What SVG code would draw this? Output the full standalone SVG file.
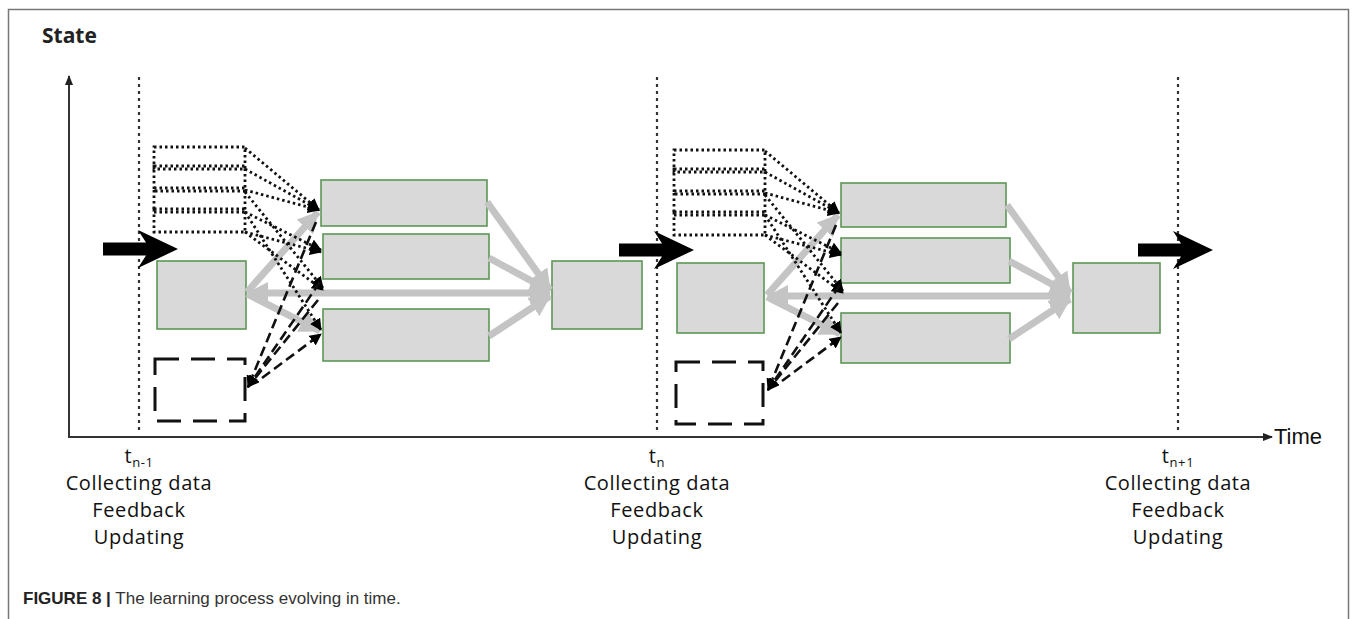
<svg xmlns="http://www.w3.org/2000/svg" width="1357" height="619" viewBox="0 0 1357 619">
<style>
.frame{fill:none;stroke:#777;stroke-width:1.5}
.axis{stroke:#333;stroke-width:2;fill:none}
.vdot{stroke:#333;stroke-width:2.2;stroke-dasharray:3 4;fill:none}
.node{fill:#d9d9d9;stroke:#5d9655;stroke-width:1.6}
.stack{fill:none;stroke:#111;stroke-width:2.8;stroke-dasharray:2.5 3}
.dbox{fill:none;stroke:#111;stroke-width:3;stroke-dasharray:24 12}
.grey{stroke:#c4c4c4;stroke-width:7;fill:none}
.dot{stroke:#111;stroke-width:2.8;stroke-dasharray:2.5 3;fill:none}
.dash{stroke:#111;stroke-width:2.6;stroke-dasharray:10 5;fill:none}
.big{fill:#000}
.lbl{font-family:"Open Sans","Lato",sans-serif;font-size:20px;fill:#111;text-anchor:middle;letter-spacing:0.6px}
.sub{font-size:13px}
.state{font-family:"Open Sans",sans-serif;font-weight:bold;font-size:21px;fill:#222}
.time{font-family:"Liberation Sans",Arial,sans-serif;font-size:22px;fill:#111}
.cap{font-family:"Liberation Sans",Arial,sans-serif;font-size:17px;fill:#333}
</style>
<defs>
<marker id="gh" markerUnits="userSpaceOnUse" markerWidth="22" markerHeight="22" refX="20" refY="11" orient="auto-start-reverse"><path d="M0,0 L21,11 L0,22 z" fill="#c4c4c4"/></marker>
<marker id="bh" markerUnits="userSpaceOnUse" markerWidth="12" markerHeight="12" refX="11" refY="6" orient="auto"><path d="M0,0 L12,6 L0,12 z" fill="#000"/></marker>
<marker id="ax" markerUnits="userSpaceOnUse" markerWidth="10" markerHeight="10" refX="9" refY="5" orient="auto"><path d="M0,1 L10,5 L0,9 z" fill="#222"/></marker>
<path id="bigarrow" d="M0,-6.5 H43 L35,-19 L75,0 L35,19 L43,6.5 H0 z"/>
</defs>
<rect width="1357" height="619" fill="#fff"/>
<path class="frame" d="M8.5,619 V9.5 H1348.5 V619"/>

<g id="axes">
<line class="axis" x1="69" y1="437" x2="69" y2="76" marker-end="url(#ax)"/>
<line class="axis" x1="68" y1="437" x2="1272" y2="437" marker-end="url(#ax)"/>
<text class="state" x="42" y="43">State</text>
<text class="time" x="1274" y="444">Time</text>
</g>

<g id="timelines">
<line class="vdot" x1="139" y1="77" x2="139" y2="432"/>
<line class="vdot" x1="657" y1="77" x2="657" y2="432"/>
<line class="vdot" x1="1178" y1="77" x2="1178" y2="432"/>
</g>

<!-- cycle 1 nodes -->
<g id="stack1"><rect class="stack" x="154" y="147" width="91" height="22"/><rect class="stack" x="154" y="166" width="91" height="25"/><rect class="stack" x="154" y="188" width="91" height="24"/><rect class="stack" x="154" y="209" width="91" height="23"/></g>
<g id="state1"><rect class="node" x="157" y="261" width="89" height="68"/></g>
<g id="feedback1"><rect class="dbox" x="155" y="359" width="90" height="62"/></g>
<g id="opt1a"><rect class="node" x="321" y="180" width="166" height="46"/></g>
<g id="opt1b"><rect class="node" x="323" y="234" width="166" height="45"/></g>
<g id="opt1c"><rect class="node" x="323" y="309" width="166" height="52"/></g>
<g id="result1"><rect class="node" x="552" y="261" width="90" height="68"/></g>

<!-- cycle 2 nodes -->
<g id="stack2" transform="translate(520,3)"><rect class="stack" x="154" y="147" width="91" height="22"/><rect class="stack" x="154" y="166" width="91" height="25"/><rect class="stack" x="154" y="188" width="91" height="24"/><rect class="stack" x="154" y="209" width="91" height="23"/></g>
<g id="state2"><rect class="node" x="677" y="263" width="87" height="70"/></g>
<g id="feedback2"><rect class="dbox" x="676" y="362" width="87" height="62"/></g>
<g id="opt2a"><rect class="node" x="841" y="183" width="165" height="44"/></g>
<g id="opt2b"><rect class="node" x="841" y="238" width="169" height="45"/></g>
<g id="opt2c"><rect class="node" x="841" y="313" width="169" height="50"/></g>
<g id="result2"><rect class="node" x="1073" y="263" width="87" height="70"/></g>

<g id="connectors">
<g id="conn1">
<line class="grey" x1="487" y1="202" x2="550" y2="290" marker-end="url(#gh)"/>
<line class="grey" x1="489" y1="258" x2="550" y2="291" marker-end="url(#gh)"/>
<line class="grey" x1="489" y1="336" x2="550" y2="296" marker-end="url(#gh)"/>
<line class="grey" x1="248" y1="293" x2="550" y2="293" marker-start="url(#gh)" marker-end="url(#gh)"/>
<line class="grey" x1="247" y1="292" x2="318" y2="212" marker-end="url(#gh)"/>
<line class="grey" x1="247" y1="294" x2="320" y2="331" marker-end="url(#gh)"/>
<line class="dot" x1="245" y1="148" x2="319" y2="210" marker-end="url(#bh)"/>
<line class="dot" x1="245" y1="169" x2="319" y2="210" marker-end="url(#bh)"/>
<line class="dot" x1="245" y1="190" x2="319" y2="210" marker-end="url(#bh)"/>
<line class="dot" x1="245" y1="212" x2="321" y2="250" marker-end="url(#bh)"/>
<line class="dot" x1="245" y1="232" x2="321" y2="252" marker-end="url(#bh)"/>
<line class="dot" x1="245" y1="192" x2="323" y2="288" marker-end="url(#bh)"/>
<line class="dot" x1="245" y1="232" x2="323" y2="290" marker-end="url(#bh)"/>
<line class="dot" x1="245" y1="212" x2="321" y2="330" marker-end="url(#bh)"/>
<line class="dash" x1="316" y1="222" x2="248" y2="387" marker-end="url(#bh)"/>
<line class="dash" x1="320" y1="282" x2="248" y2="387" marker-end="url(#bh)"/>
<line class="dash" x1="318" y1="300" x2="248" y2="387" marker-end="url(#bh)"/>
<line class="dash" x1="262" y1="378" x2="321" y2="334" marker-end="url(#bh)"/>
</g>
<g id="conn2" transform="translate(520,3)">
<line class="grey" x1="487" y1="202" x2="550" y2="290" marker-end="url(#gh)"/>
<line class="grey" x1="489" y1="258" x2="550" y2="291" marker-end="url(#gh)"/>
<line class="grey" x1="489" y1="336" x2="550" y2="296" marker-end="url(#gh)"/>
<line class="grey" x1="248" y1="293" x2="550" y2="293" marker-start="url(#gh)" marker-end="url(#gh)"/>
<line class="grey" x1="247" y1="292" x2="318" y2="212" marker-end="url(#gh)"/>
<line class="grey" x1="247" y1="294" x2="320" y2="331" marker-end="url(#gh)"/>
<line class="dot" x1="245" y1="148" x2="319" y2="210" marker-end="url(#bh)"/>
<line class="dot" x1="245" y1="169" x2="319" y2="210" marker-end="url(#bh)"/>
<line class="dot" x1="245" y1="190" x2="319" y2="210" marker-end="url(#bh)"/>
<line class="dot" x1="245" y1="212" x2="321" y2="250" marker-end="url(#bh)"/>
<line class="dot" x1="245" y1="232" x2="321" y2="252" marker-end="url(#bh)"/>
<line class="dot" x1="245" y1="192" x2="323" y2="288" marker-end="url(#bh)"/>
<line class="dot" x1="245" y1="232" x2="323" y2="290" marker-end="url(#bh)"/>
<line class="dot" x1="245" y1="212" x2="321" y2="330" marker-end="url(#bh)"/>
<line class="dash" x1="316" y1="222" x2="248" y2="387" marker-end="url(#bh)"/>
<line class="dash" x1="320" y1="282" x2="248" y2="387" marker-end="url(#bh)"/>
<line class="dash" x1="318" y1="300" x2="248" y2="387" marker-end="url(#bh)"/>
<line class="dash" x1="262" y1="378" x2="321" y2="334" marker-end="url(#bh)"/>
</g>
<g id="timearrows">
<use href="#bigarrow" class="big" transform="translate(103,249)"/>
<use href="#bigarrow" class="big" transform="translate(619,250)"/>
<use href="#bigarrow" class="big" transform="translate(1138,250)"/>
</g>
</g>

<g id="labels1">
<text class="lbl" x="139" y="463">t<tspan class="sub" dy="4">n-1</tspan></text>
<text class="lbl" x="139" y="490">Collecting data</text>
<text class="lbl" x="139" y="517">Feedback</text>
<text class="lbl" x="139" y="544">Updating</text>
</g>
<g id="labels2">
<text class="lbl" x="657" y="463">t<tspan class="sub" dy="4">n</tspan></text>
<text class="lbl" x="657" y="490">Collecting data</text>
<text class="lbl" x="657" y="517">Feedback</text>
<text class="lbl" x="657" y="544">Updating</text>
</g>
<g id="labels3">
<text class="lbl" x="1178" y="463">t<tspan class="sub" dy="4">n+1</tspan></text>
<text class="lbl" x="1178" y="490">Collecting data</text>
<text class="lbl" x="1178" y="517">Feedback</text>
<text class="lbl" x="1178" y="544">Updating</text>
</g>
<text class="cap" x="23" y="604"><tspan font-weight="bold" fill="#222">FIGURE 8 |</tspan> The learning process evolving in time.</text>
</svg>
